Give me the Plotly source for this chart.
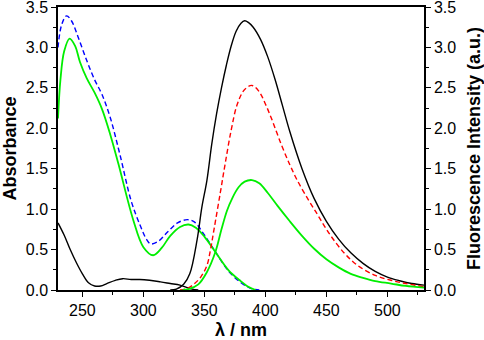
import plotly.graph_objects as go

# Absorbance spectra
abs_blue_x = [230, 233, 237, 241, 246.7, 253.5, 260, 266, 272.7, 281, 290, 297.3, 302.8, 306, 312, 320, 328, 336, 342, 350, 360, 370, 380, 388, 395]
abs_blue_y = [3.00, 3.28, 3.39, 3.33, 3.12, 2.84, 2.60, 2.42, 2.14, 1.66, 1.10, 0.80, 0.62, 0.57, 0.60, 0.72, 0.83, 0.87, 0.84, 0.68, 0.45, 0.23, 0.09, 0.02, 0.0]

abs_green_x = [230, 232, 235, 239.5, 244, 248, 253.5, 260, 266, 272.7, 279.5, 291.8, 300, 308, 315, 322, 330, 337, 343, 350, 359, 370, 379, 386, 392]
abs_green_y = [2.12, 2.6, 2.95, 3.11, 3.02, 2.82, 2.62, 2.44, 2.24, 1.93, 1.56, 0.86, 0.53, 0.43, 0.52, 0.67, 0.78, 0.81, 0.77, 0.66, 0.47, 0.24, 0.12, 0.04, 0.0]

abs_black_x = [230, 235, 240, 245, 250, 255, 260, 265, 270, 277, 283, 290, 297, 305, 314, 322, 330, 336, 340, 345]
abs_black_y = [0.83, 0.68, 0.50, 0.34, 0.20, 0.09, 0.05, 0.05, 0.08, 0.12, 0.14, 0.13, 0.13, 0.12, 0.10, 0.08, 0.06, 0.03, 0.01, 0.0]

# Fluorescence spectra
fl_black_x = [322, 327, 333, 338, 344, 348, 352, 356, 360, 364, 368, 372, 376, 380, 383, 386, 390, 396, 402, 408, 414, 420, 430, 440, 450, 460, 470, 480, 490, 500, 510, 520, 530]
fl_black_y = [0.0, 0.01, 0.07, 0.20, 0.62, 1.03, 1.35, 1.80, 2.18, 2.50, 2.78, 3.02, 3.20, 3.30, 3.33, 3.31, 3.25, 3.10, 2.88, 2.60, 2.28, 1.96, 1.50, 1.13, 0.85, 0.63, 0.46, 0.33, 0.23, 0.16, 0.115, 0.08, 0.06]

fl_red_x = [330, 336, 342, 347, 352, 355, 358, 363, 367, 372, 377, 383, 389, 395, 400, 405, 413, 420, 426, 435, 442, 448, 455, 465, 475, 490, 503, 515, 530]
fl_red_y = [0.0, 0.02, 0.08, 0.16, 0.30, 0.50, 0.76, 1.20, 1.56, 1.98, 2.30, 2.48, 2.53, 2.45, 2.30, 2.12, 1.80, 1.55, 1.36, 1.12, 0.95, 0.80, 0.64, 0.45, 0.31, 0.18, 0.12, 0.08, 0.04]

fl_green_x = [332, 337, 345, 352, 359, 364, 368.5, 373, 378, 383, 389, 395, 402, 410, 420, 430, 440, 450, 460, 470, 480, 490, 503, 515, 530]
fl_green_y = [0.0, 0.01, 0.07, 0.22, 0.47, 0.75, 0.98, 1.14, 1.27, 1.34, 1.36, 1.32, 1.20, 1.04, 0.85, 0.67, 0.51, 0.38, 0.28, 0.20, 0.15, 0.11, 0.08, 0.05, 0.03]

x_ticks = [250, 300, 350, 400, 450, 500]
y_ticks = [0.0, 0.5, 1.0, 1.5, 2.0, 2.5, 3.0, 3.5]
y_tick_text = ["0.0", "0.5", "1.0", "1.5", "2.0", "2.5", "3.0", "3.5"]

BLUE = "#0000FF"
GREEN = "#00EE00"
RED = "#FF0000"
BLACK = "#000000"
DASH = "5px,3px"

fig = go.Figure()
fig.add_trace(go.Scatter(x=abs_black_x, y=abs_black_y, mode="lines",
                         line=dict(color=BLACK, width=1.4, shape="spline", smoothing=1.0)))
fig.add_trace(go.Scatter(x=abs_blue_x, y=abs_blue_y, mode="lines",
                         line=dict(color=BLUE, width=1.4, dash=DASH, shape="spline", smoothing=1.0)))
fig.add_trace(go.Scatter(x=abs_green_x, y=abs_green_y, mode="lines",
                         line=dict(color=GREEN, width=1.8, shape="spline", smoothing=1.0)))
fig.add_trace(go.Scatter(x=fl_black_x, y=fl_black_y, mode="lines", yaxis="y2",
                         line=dict(color=BLACK, width=1.4, shape="spline", smoothing=1.0)))
fig.add_trace(go.Scatter(x=fl_red_x, y=fl_red_y, mode="lines", yaxis="y2",
                         line=dict(color=RED, width=1.4, dash=DASH, shape="spline", smoothing=1.0)))
fig.add_trace(go.Scatter(x=fl_green_x, y=fl_green_y, mode="lines", yaxis="y2",
                         line=dict(color=GREEN, width=1.8, shape="spline", smoothing=1.0)))

tickfont = dict(family="Liberation Sans, Arial, sans-serif", size=16, color="black")
titlefont = dict(family="Liberation Sans, Arial, sans-serif", size=18, color="black", weight="bold")
minor_y = [0.25, 0.75, 1.25, 1.75, 2.25, 2.75, 3.25]

fig.update_layout(
    width=484, height=340,
    margin=dict(l=58, r=60, t=7, b=50),
    paper_bgcolor="white", plot_bgcolor="white",
    showlegend=False,
    xaxis=dict(range=[230, 530], tickvals=x_ticks, ticks="outside", ticklen=5, tickwidth=1.2,
               tickcolor="black", showline=True, linecolor="black", linewidth=1.5, mirror=True,
               showgrid=False, zeroline=False, tickfont=tickfont, automargin=False,
               ticklabeloverflow="allow",
               minor=dict(tickvals=[275, 325, 375, 425, 475, 525], ticks="outside", ticklen=3,
                          tickwidth=1.2, tickcolor="black"),
               title=dict(text="λ / nm", font=titlefont, standoff=10)),
    yaxis=dict(range=[0, 3.5], tickvals=y_ticks, ticktext=y_tick_text, ticks="outside", ticklen=5,
               tickwidth=1.2, tickcolor="black", showline=True, linecolor="black", linewidth=1.5,
               showgrid=False, zeroline=False, tickfont=tickfont, automargin=False,
               ticklabeloverflow="allow",
               minor=dict(tickvals=minor_y, ticks="outside",
                          ticklen=3, tickwidth=1.2, tickcolor="black"),
               title=dict(text="Absorbance", font=titlefont, standoff=5)),
    yaxis2=dict(range=[0, 3.5], overlaying="y", side="right", tickvals=y_ticks, ticktext=y_tick_text,
                ticks="outside", ticklen=5, tickwidth=1.2, tickcolor="black", showline=True,
                linecolor="black", linewidth=1.5, showgrid=False, zeroline=False, tickfont=tickfont,
                automargin=False, ticklabeloverflow="allow",
                minor=dict(tickvals=minor_y, ticks="outside",
                           ticklen=3, tickwidth=1.2, tickcolor="black"),
                title=dict(text="Fluorescence Intensity (a.u.)", font=titlefont, standoff=12)),
)

fig.write_html("out.html", config={"displayModeBar": False},
               post_script="document.body.style.margin='0';")
